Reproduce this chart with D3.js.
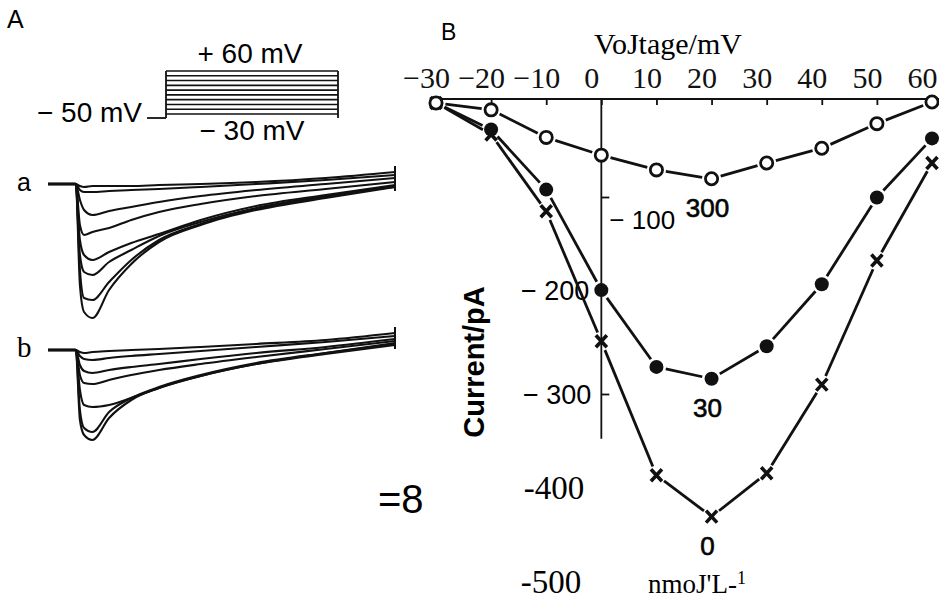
<!DOCTYPE html>
<html>
<head>
<meta charset="utf-8">
<script src="https://cdn.jsdelivr.net/npm/d3@7"></script>
<style>
  body { margin: 0; background: #fff; }
  svg { display: block; }
</style>
</head>
<body>
<div id="chart"></div>
<script>
// ---- panel B: I-V curves (pA vs mV), three toxin concentrations ----
var voltages = [-30, -20, -10, 0, 10, 20, 30, 40, 50, 60];
var current300 = [-4, -11, -39, -57, -72, -81, -65, -50, -25, -3];
var current30 = [-4, -31, -92, -194, -272, -284, -251, -188, -100, -40];
var current0 = [-4, -36, -114, -246, -382, -424, -380, -290, -164, -65];
var concLabels = ["300", "30", "0"];
var xTicks = [-30, -20, -10, 0, 10, 20, 30, 40, 50, 60];
var yTickLabels = [-100, -200, -300, -400, -500];

// ---- panel A: current traces (arbitrary units) ----
var traceTimes = [-10, 0, 1.5, 3, 6, 12, 20, 30, 45, 65, 90, 115];
var tracesA = [
  [0, 0, -2, -3, -2, -2, -2, -1, 0, 2, 6, 12],
  [0, 0, -6, -8, -8, -7, -6, -5, -3, 0, 4, 9],
  [0, 0, -16, -26, -31, -27, -23, -18, -12, -6, 0, 6],
  [0, 0, -41, -51, -48, -44, -36, -28, -20, -12, -5, 2],
  [0, 0, -56, -71, -76, -68, -59, -50, -36, -22, -11, -1],
  [0, 0, -71, -88, -91, -78, -66, -52, -38, -24, -12, -3],
  [0, 0, -86, -114, -116, -98, -76, -56, -40, -25, -13, -2],
  [0, 0, -101, -128, -134, -106, -80, -58, -41, -26, -14, -3]
];
var tracesB = [
  [0, 0, -2, -3, -2, -1, 0, 1, 3, 6, 10, 17],
  [0, 0, -6, -9, -10, -8, -6, -4, -1, 3, 8, 14],
  [0, 0, -15, -21, -23, -20, -17, -14, -9, -3, 3, 11],
  [0, 0, -25, -33, -34, -30, -25, -20, -14, -7, 1, 9],
  [0, 0, -40, -55, -57, -55, -48, -38, -26, -14, -3, 7],
  [0, 0, -60, -78, -82, -62, -48, -37, -25, -13, -3, 6],
  [0, 0, -70, -85, -90, -68, -50, -38, -26, -14, -4, 5]
];
var holdingVoltage = -50;
var stepVoltages = [-30, -20, -10, 0, 10, 20, 30, 40, 50, 60];

var width = 939, height = 601;
var serif = "'Liberation Serif', 'Times New Roman', serif";
var sans = "'Liberation Sans', Arial, sans-serif";

var svg = d3.select("#chart").append("svg")
    .attr("width", width)
    .attr("height", height);

// =================== Panel A ===================
svg.append("text").attr("x", 7).attr("y", 28)
    .style("font-family", sans).style("font-size", "25px").text("A");

// voltage protocol
var tStep = d3.scaleLinear().domain([0, 1]).range([166, 338]);
var vStep = d3.scaleLinear().domain([-30, 60]).range([114, 71]);
var holdY = 118;
var proto = svg.append("g").attr("stroke", "#111").attr("fill", "none");
proto.append("line").attr("x1", tStep(0) - 19).attr("x2", tStep(0))
    .attr("y1", holdY).attr("y2", holdY).attr("stroke-width", 1.8);
proto.append("line").attr("x1", tStep(0)).attr("x2", tStep(0))
    .attr("y1", holdY).attr("y2", vStep(60)).attr("stroke-width", 1.8);
proto.append("line").attr("x1", tStep(1)).attr("x2", tStep(1))
    .attr("y1", vStep(60)).attr("y2", holdY).attr("stroke-width", 1.8);
proto.selectAll(".step").data(stepVoltages).enter().append("line")
    .attr("x1", tStep(0)).attr("x2", tStep(1))
    .attr("y1", function(d) { return vStep(d); })
    .attr("y2", function(d) { return vStep(d); })
    .attr("stroke-width", 1.6);

svg.append("text").attr("x", 250).attr("y", 63).attr("text-anchor", "middle")
    .style("font-family", sans).style("font-size", "28px").text("+ 60 mV");
svg.append("text").attr("x", 142).attr("y", 122).attr("text-anchor", "end")
    .style("font-family", sans).style("font-size", "28px").text("\u2212 " + Math.abs(holdingVoltage) + " mV");
svg.append("text").attr("x", 252).attr("y", 140).attr("text-anchor", "middle")
    .style("font-family", sans).style("font-size", "28px").text("\u2212 30 mV");

// traces
var tScale = d3.scaleLinear().domain([-10, 115]).range([48, 395]);
function drawTraces(traces, baseY, label, labelFont, labelSize) {
  var iScale = d3.scaleLinear().domain([0, -140]).range([baseY, baseY + 140]);
  var line = d3.line()
      .x(function(d, i) { return tScale(traceTimes[i]); })
      .y(function(d) { return iScale(d); })
      .curve(d3.curveMonotoneX);
  var g = svg.append("g");
  g.selectAll("path").data(traces).enter().append("path")
      .attr("d", line)
      .attr("fill", "none")
      .attr("stroke", "#111")
      .attr("stroke-width", 2.1)
      .attr("stroke-linejoin", "round");
  // thick baseline before the step
  g.append("line")
      .attr("x1", tScale(-10)).attr("x2", tScale(0))
      .attr("y1", iScale(0)).attr("y2", iScale(0))
      .attr("stroke", "#111").attr("stroke-width", 3.2);
  // capacitive artifact at the end of the pulse
  var ends = traces.map(function(t) { return t[t.length - 1]; });
  g.append("line")
      .attr("x1", tScale(115)).attr("x2", tScale(115))
      .attr("y1", iScale(d3.max(ends)) - 6).attr("y2", iScale(d3.min(ends)) + 4)
      .attr("stroke", "#111").attr("stroke-width", 2);
  svg.append("text").attr("x", 17).attr("y", baseY + 7)
      .style("font-family", labelFont).style("font-size", labelSize).text(label);
}
drawTraces(tracesA, 184, "a", sans, "25px");
drawTraces(tracesB, 350, "b", serif, "29px");

// =================== Panel B ===================
svg.append("text").attr("x", 441).attr("y", 40)
    .style("font-family", sans).style("font-size", "23px").text("B");

var x = d3.scaleLinear().domain([-30, 60]).range([436, 932]);
var y = d3.scaleLinear().domain([0, -500]).range([99, 591.5]);

// top voltage axis
var xAxis = svg.append("g")
    .attr("transform", "translate(0," + y(0) + ")")
    .call(d3.axisTop(x).tickValues(xTicks).tickSize(-6).tickSizeOuter(0).tickPadding(11));
xAxis.select(".domain").remove();
xAxis.selectAll(".tick line").attr("stroke", "#111").attr("stroke-width", 1.8);
xAxis.selectAll(".tick text")
    .attr("dx", -10)
    .attr("fill", "#111")
    .style("font-family", serif)
    .style("font-size", "30px");
svg.append("line")
    .attr("x1", x(-30) - 3).attr("x2", width)
    .attr("y1", y(0)).attr("y2", y(0))
    .attr("stroke", "#111").attr("stroke-width", 2.2);

svg.append("text").attr("x", 668).attr("y", 54).attr("text-anchor", "middle")
    .style("font-family", serif).style("font-size", "30px").text("VoJtage/mV");

// vertical current axis
svg.append("line")
    .attr("x1", x(0)).attr("x2", x(0))
    .attr("y1", y(0)).attr("y2", y(-345))
    .attr("stroke", "#111").attr("stroke-width", 1.8);
svg.selectAll(".ytick").data([-100, -300]).enter().append("line")
    .attr("x1", x(0)).attr("x2", x(0) + 8)
    .attr("y1", function(d) { return y(d); })
    .attr("y2", function(d) { return y(d); })
    .attr("stroke", "#111").attr("stroke-width", 1.8);

// y tick labels (mixed fonts as in the figure)
svg.append("text").attr("x", x(0) + 8).attr("y", y(yTickLabels[0]) + 31)
    .style("font-family", sans).style("font-size", "26px").text("\u2212 100");
svg.append("text").attr("x", x(0) - 12).attr("y", y(yTickLabels[1]) + 4)
    .attr("text-anchor", "end")
    .style("font-family", sans).style("font-size", "27px").text("\u2212 200");
svg.append("text").attr("x", x(0) - 10).attr("y", y(yTickLabels[2]) + 9)
    .attr("text-anchor", "end")
    .style("font-family", sans).style("font-size", "27px").text("\u2212 300");
svg.append("text").attr("x", x(0) - 17).attr("y", y(yTickLabels[3]) + 6)
    .attr("text-anchor", "end")
    .style("font-family", serif).style("font-size", "33px").text(yTickLabels[3]);
svg.append("text").attr("x", x(0) - 20).attr("y", y(yTickLabels[4]) + 1)
    .attr("text-anchor", "end")
    .style("font-family", serif).style("font-size", "33px").text(yTickLabels[4]);

svg.append("text")
    .attr("transform", "translate(484,362) rotate(-90)")
    .attr("text-anchor", "middle")
    .style("font-family", sans).style("font-size", "29px").style("font-weight", "bold")
    .text("Current/pA");

// series: lines with gaps around the markers
var series = [
  { values: current0, marker: "x", label: concLabels[2] },
  { values: current30, marker: "filled", label: concLabels[1] },
  { values: current300, marker: "open", label: concLabels[0] }
];
var gap = 9.5;
series.forEach(function(s) {
  var pts = voltages.map(function(v, i) { return [x(v), y(s.values[i])]; });
  var segs = d3.pairs(pts);
  svg.append("g").selectAll("line").data(segs).enter().append("line")
      .each(function(p) {
        var dx = p[1][0] - p[0][0], dy = p[1][1] - p[0][1];
        var len = Math.sqrt(dx * dx + dy * dy);
        var g0 = Math.min(gap, len / 2 - 1);
        d3.select(this)
          .attr("x1", p[0][0] + dx / len * g0).attr("y1", p[0][1] + dy / len * g0)
          .attr("x2", p[1][0] - dx / len * g0).attr("y2", p[1][1] - dy / len * g0);
      })
      .attr("stroke", "#111").attr("stroke-width", 2.8);
});
series.forEach(function(s) {
  var pts = voltages.map(function(v, i) { return [x(v), y(s.values[i])]; });
  var g = svg.append("g");
  if (s.marker === "x") {
    g.selectAll("path").data(pts).enter().append("path")
        .attr("transform", function(d) { return "translate(" + d[0] + "," + d[1] + ")"; })
        .attr("d", "M-5.5,-6L5.5,6M-5.5,6L5.5,-6")
        .attr("stroke", "#111").attr("stroke-width", 3.6).attr("fill", "none");
  } else {
    g.selectAll("circle").data(pts).enter().append("circle")
        .attr("cx", function(d) { return d[0]; })
        .attr("cy", function(d) { return d[1]; })
        .attr("r", s.marker === "open" ? 6.1 : 7)
        .attr("fill", s.marker === "open" ? "#fff" : "#111")
        .attr("stroke", "#111")
        .attr("stroke-width", s.marker === "open" ? 2.8 : 0);
  }
  var iMin = d3.minIndex(s.values);
  svg.append("text")
      .attr("x", x(voltages[iMin]) - 4)
      .attr("y", y(s.values[iMin]) + 38)
      .attr("text-anchor", "middle")
      .attr("stroke", "#111").attr("stroke-width", 0.7)
      .style("font-family", sans).style("font-size", "26px")
      .text(s.label);
});

svg.append("text").attr("x", 697).attr("y", 593).attr("text-anchor", "middle")
    .style("font-family", serif).style("font-size", "27px")
    .text("nmoJ'L-")
  .append("tspan").attr("dy", -9).style("font-size", "18px").text("1");

svg.append("text").attr("x", 378).attr("y", 513)
    .style("font-family", sans).style("font-size", "40px").text("=8");
</script>
</body>
</html>
